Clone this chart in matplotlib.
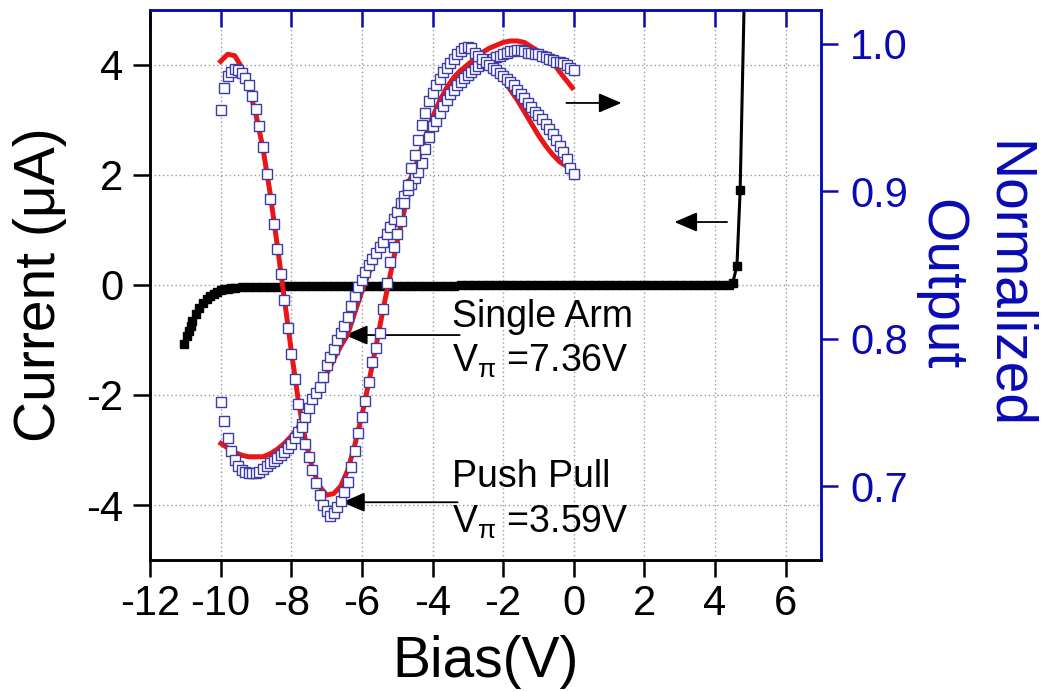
import matplotlib
matplotlib.use("Agg")
import matplotlib.pyplot as plt

plt.rcParams['font.family'] = ['Liberation Sans', 'DejaVu Sans']
plt.rcParams['axes.unicode_minus'] = False
plt.rcParams['mathtext.fontset'] = 'custom'
plt.rcParams['mathtext.rm'] = 'Liberation Sans'

# ---------------- data ----------------
# I-V curve (left axis, µA)
bias_iv = [-11.05, -10.95, -10.9, -10.85, -10.8, -10.7, -10.6, -10.5, -10.4, -10.3,
           -10.2, -10.1, -10.0, -9.9, -9.8, -9.7, -9.6, -9.4, -9.2, -9.0,
           -8.8, -8.6, -8.4, -8.2, -8.0, -7.8, -7.6, -7.4, -7.2, -7.0,
           -6.8, -6.6, -6.4, -6.2, -6.0, -5.8, -5.6, -5.4, -5.2, -5.0,
           -4.8, -4.6, -4.4, -4.2, -4.0, -3.8, -3.6, -3.4, -3.2, -3.0,
           -2.8, -2.6, -2.4, -2.2, -2.0, -1.8, -1.6, -1.4, -1.2, -1.0,
           -0.8, -0.6, -0.4, -0.2, 0.0, 0.2, 0.4, 0.6, 0.8, 1.0,
           1.2, 1.4, 1.6, 1.8, 2.0, 2.2, 2.4, 2.6, 2.8, 3.0,
           3.2, 3.4, 3.6, 3.8, 4.0, 4.2, 4.4, 4.5, 4.62, 4.71, 4.9]
current = [-1.08, -0.92, -0.83, -0.74, -0.66, -0.53, -0.42, -0.33, -0.26, -0.20,
           -0.16, -0.12, -0.10, -0.08, -0.065, -0.055, -0.048, -0.040, -0.035, -0.032,
           -0.030, -0.029, -0.028, -0.027, -0.026, -0.025, -0.025, -0.024, -0.023, -0.022,
           -0.022, -0.021, -0.020, -0.019, -0.018, -0.018, -0.017, -0.016, -0.015, -0.015,
           -0.014, -0.013, -0.013, -0.012, -0.011, -0.011, -0.010, -0.010, -0.009, -0.009,
           -0.008, -0.008, -0.007, -0.007, -0.006, -0.006, -0.005, -0.005, -0.004, -0.004,
           -0.003, -0.003, -0.002, -0.002, -0.001, 0.0, 0.0, 0.0, 0.0, 0.0,
           0.0, 0.0, 0.0, 0.0, 0.0, 0.0, 0.0, 0.0, 0.0, 0.0,
           0.0, 0.0, 0.0, 0.0, 0.0, 0.001, 0.005, 0.04, 0.35, 1.72, 7.4]

# Normalized output data (right axis)
bias_data = [-10.0, -9.9, -9.8, -9.7, -9.6, -9.5, -9.4, -9.3, -9.2, -9.1,
             -9.0, -8.9, -8.8, -8.7, -8.6, -8.5, -8.4, -8.3, -8.2, -8.1,
             -8.0, -7.9, -7.8, -7.7, -7.6, -7.5, -7.4, -7.3, -7.2, -7.1,
             -7.0, -6.9, -6.8, -6.7, -6.6, -6.5, -6.4, -6.3, -6.2, -6.1,
             -6.0, -5.9, -5.8, -5.7, -5.6, -5.5, -5.4, -5.3, -5.2, -5.1,
             -5.0, -4.9, -4.8, -4.7, -4.6, -4.5, -4.4, -4.3, -4.2, -4.1,
             -4.0, -3.9, -3.8, -3.7, -3.6, -3.5, -3.4, -3.3, -3.2, -3.1,
             -3.0, -2.9, -2.8, -2.7, -2.6, -2.5, -2.4, -2.3, -2.2, -2.1,
             -2.0, -1.9, -1.8, -1.7, -1.6, -1.5, -1.4, -1.3, -1.2, -1.1,
             -1.0, -0.9, -0.8, -0.7, -0.6, -0.5, -0.4, -0.3, -0.2, -0.1, 0.0]
push_pull = [0.955, 0.970, 0.978, 0.981, 0.983, 0.982, 0.980, 0.977, 0.972, 0.965,
             0.956, 0.944, 0.930, 0.912, 0.895, 0.878, 0.861, 0.844, 0.826, 0.807,
             0.790, 0.773, 0.756, 0.740, 0.729, 0.720, 0.711, 0.702, 0.694, 0.687,
             0.683, 0.680, 0.682, 0.686, 0.690, 0.696, 0.703, 0.713, 0.724, 0.736,
             0.747, 0.758, 0.771, 0.784, 0.794, 0.804, 0.820, 0.838, 0.852, 0.862,
             0.871, 0.880, 0.892, 0.904, 0.916, 0.925, 0.935, 0.945, 0.953, 0.961,
             0.967, 0.972, 0.976, 0.981, 0.984, 0.987, 0.990, 0.993, 0.995, 0.997,
             0.998, 0.997, 0.994, 0.992, 0.990, 0.988, 0.986, 0.984, 0.982, 0.980,
             0.978, 0.976, 0.974, 0.972, 0.969, 0.966, 0.963, 0.960, 0.957, 0.954,
             0.952, 0.949, 0.946, 0.942, 0.939, 0.935, 0.931, 0.927, 0.922, 0.916, 0.912]
single_arm = [0.757, 0.744, 0.733, 0.724, 0.718, 0.714, 0.711, 0.710, 0.709, 0.709,
              0.709, 0.710, 0.712, 0.714, 0.716, 0.717, 0.719, 0.721, 0.723, 0.726,
              0.729, 0.733, 0.737, 0.742, 0.747, 0.753, 0.759, 0.763, 0.767, 0.774,
              0.782, 0.788, 0.793, 0.799, 0.804, 0.809, 0.815, 0.822, 0.829, 0.835,
              0.840, 0.845, 0.850, 0.854, 0.858, 0.862, 0.866, 0.871, 0.876, 0.881,
              0.886, 0.892, 0.897, 0.901, 0.905, 0.909, 0.913, 0.919, 0.929, 0.937,
              0.944, 0.948, 0.953, 0.958, 0.962, 0.966, 0.969, 0.972, 0.974, 0.977,
              0.979, 0.981, 0.983, 0.985, 0.987, 0.988, 0.989, 0.990, 0.991, 0.992,
              0.993, 0.994, 0.995, 0.995, 0.996, 0.996, 0.995, 0.994, 0.994, 0.993,
              0.993, 0.992, 0.991, 0.990, 0.989, 0.988, 0.988, 0.987, 0.986, 0.984, 0.982]

# Fits (red lines)
bias_fit = [-10.05, -9.8, -9.6, -9.4, -9.2, -9.0, -8.8, -8.6, -8.4, -8.2,
            -8.0, -7.8, -7.6, -7.4, -7.2, -7.0, -6.8, -6.6, -6.4, -6.2,
            -6.0, -5.8, -5.6, -5.4, -5.2, -5.0, -4.8, -4.6, -4.4, -4.2,
            -4.0, -3.8, -3.6, -3.4, -3.2, -3.0, -2.8, -2.6, -2.4, -2.2,
            -2.0, -1.8, -1.6, -1.4, -1.2, -1.0, -0.8, -0.6, -0.4, -0.2, 0.0]
push_pull_fit = [0.987, 0.993, 0.992, 0.984, 0.970, 0.952, 0.929, 0.899, 0.864, 0.828,
                 0.792, 0.758, 0.731, 0.712, 0.700, 0.694, 0.695, 0.700, 0.711, 0.728,
                 0.748, 0.771, 0.795, 0.820, 0.843, 0.866, 0.887, 0.906, 0.922, 0.937,
                 0.950, 0.961, 0.970, 0.977, 0.982, 0.985, 0.987, 0.987, 0.986, 0.981,
                 0.976, 0.969, 0.962, 0.954, 0.946, 0.938, 0.931, 0.925, 0.920, 0.917, 0.915]
single_arm_fit = [0.730, 0.726, 0.723, 0.721, 0.720, 0.720, 0.720, 0.722, 0.725, 0.729,
                  0.734, 0.740, 0.748, 0.757, 0.766, 0.776, 0.786, 0.795, 0.803, 0.818,
                  0.832, 0.845, 0.857, 0.868, 0.878, 0.888, 0.899, 0.910, 0.922, 0.937,
                  0.950, 0.961, 0.970, 0.977, 0.982, 0.986, 0.990, 0.994, 0.997, 0.999,
                  1.001, 1.002, 1.002, 1.001, 0.998, 0.995, 0.992, 0.988, 0.981, 0.975, 0.969]

x_ticks = [-12, -10, -8, -6, -4, -2, 0, 2, 4, 6]
y_ticks = [-4, -2, 0, 2, 4]
y2_ticks = [0.7, 0.8, 0.9, 1.0]
y2_labels = ['0.7', '0.8', '0.9', '1.0']

BLUE = '#0a0ab4'
SQ = '#3c3ca8'
RED = '#ea1515'

# ---------------- figure ----------------
fig = plt.figure(figsize=(10.47, 6.91), dpi=100)
ax = fig.add_axes([0.14327, 0.18958, 0.64088, 0.79595])
ax2 = ax.twinx()

ax.set_xlim(-12, 7)
ax.set_ylim(-5, 5)
ax2.set_ylim(0.650, 1.023)

ax.set_xticks(x_ticks)
ax.set_xticklabels([str(t) for t in x_ticks])
ax.set_yticks(y_ticks)
ax.set_yticklabels([str(t) for t in y_ticks])
ax2.set_yticks(y2_ticks)
ax2.set_yticklabels(y2_labels)

ax.grid(True, color='#9a9a9a', linestyle=(0, (1, 2)), linewidth=1.0)
ax.set_axisbelow(True)

# current curve
ax.plot(bias_iv, current, color='black', lw=2.2, marker='s', markersize=5.4,
        markerfacecolor='black', markeredgecolor='black', clip_on=True, zorder=3)

# fits + data on right axis
ax2.plot(bias_fit, single_arm_fit, color=RED, lw=3.6, zorder=2, solid_capstyle='butt')
ax2.plot(bias_fit, push_pull_fit, color=RED, lw=3.6, zorder=2, solid_capstyle='butt')
ax2.plot(bias_data, single_arm, linestyle='none', marker='s', markersize=6.6,
         markerfacecolor='white', markeredgecolor=SQ, markeredgewidth=1.0, zorder=3)
ax2.plot(bias_data, push_pull, linestyle='none', marker='s', markersize=6.6,
         markerfacecolor='white', markeredgecolor=SQ, markeredgewidth=1.0, zorder=3)

# ticks
ax.tick_params(axis='both', direction='out', length=12, width=1.8, labelsize=30,
               top=False, right=False)
ax.tick_params(axis='x', pad=5)
ax.tick_params(axis='y', pad=7)
ax2.tick_params(axis='y', direction='out', length=12, width=1.8, labelsize=30,
                color=BLUE, labelcolor=BLUE, pad=9)
ax2.xaxis.set_visible(True)
ax2.tick_params(axis='x', bottom=False, top=True, labelbottom=False, labeltop=False,
                direction='in', length=12, width=1.8, color=BLUE)

for a in (ax, ax2):
    a.spines['left'].set_color('black')
    a.spines['bottom'].set_color('black')
    a.spines['top'].set_color(BLUE)
    a.spines['right'].set_color(BLUE)
    for s in a.spines.values():
        s.set_linewidth(1.8)

ax.set_xlabel('Bias(V)', fontsize=41, labelpad=8)
ax.set_ylabel('Current (μA)', fontsize=41, labelpad=14)
ax2.set_ylabel('Normalized\nOutput', fontsize=41, color=BLUE, rotation=270,
               va='bottom', labelpad=4, linespacing=1.3)

# annotations
arrow_kw = dict(arrowstyle='-|>,head_length=0.7,head_width=0.3', color='black',
                lw=1.3, shrinkA=0, shrinkB=0, mutation_scale=20)
ax.annotate('', xy=(-6.48, -0.91), xytext=(-3.23, -0.91), arrowprops=arrow_kw)
ax.annotate('', xy=(-6.56, -3.95), xytext=(-3.29, -3.95), arrowprops=arrow_kw)
ax.annotate('', xy=(1.35, 3.31), xytext=(-0.21, 3.31), arrowprops=arrow_kw)
ax.annotate('', xy=(2.85, 1.145), xytext=(4.34, 1.145), arrowprops=arrow_kw)

ax.text(-3.455, -0.764, 'Single Arm', fontsize=27, va='baseline', ha='left')
ax.text(-3.455, -1.58, r'V$_\mathregular{π}$ =7.36V', fontsize=27, va='baseline', ha='left')
ax.text(-3.455, -3.67, 'Push Pull', fontsize=27, va='baseline', ha='left')
ax.text(-3.455, -4.51, r'V$_\mathregular{π}$ =3.59V', fontsize=27, va='baseline', ha='left')

fig.savefig('out.png', dpi=100)
